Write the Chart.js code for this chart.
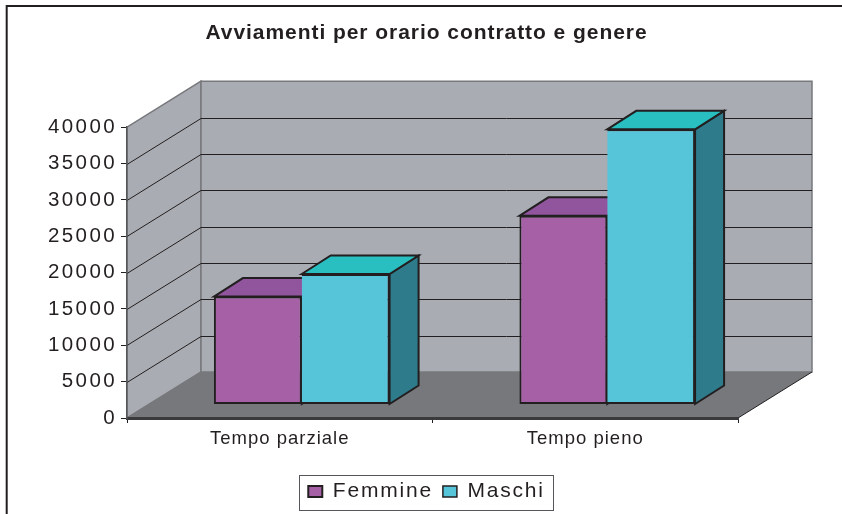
<!DOCTYPE html>
<html><head><meta charset="utf-8">
<style>html,body{margin:0;padding:0;background:#fff}canvas{display:block}</style>
<script src="https://cdn.jsdelivr.net/npm/chart.js@4"></script>
</head><body><canvas id="c" width="842" height="514"></canvas>
<script>
const categories = ["Tempo parziale", "Tempo pieno"];
const femmine = [14850, 25950];
const maschi = [17950, 37850];
const seriesNames = ["Femmine", "Maschi"];
const titleText = "Avviamenti per orario contratto e genere";

const ink = "#231f20", wallCol = "#a9acb3", floorCol = "#77787c", edge = "#77787c";
const wallDx = 74, wallDy = 46;      // depth of the box
const barShiftX = 22, barShiftY = 13.5; // bars sit inside the box
const barDx = 29, barDy = 18.5;      // depth of a bar
const faces = [{top:"#91559e", side:"#7d4a8a"}, {top:"#29bfc0", side:"#2e7b8c"}];

function poly(ctx, pts, fill, stroke, lw){
  ctx.beginPath(); pts.forEach((p,i)=> i?ctx.lineTo(p[0],p[1]):ctx.moveTo(p[0],p[1])); ctx.closePath();
  if(fill){ctx.fillStyle=fill;ctx.fill();}
  if(stroke){ctx.strokeStyle=stroke;ctx.lineWidth=lw;ctx.lineJoin="miter";ctx.stroke();}
}
function spaced(obj, method, px, ctx){
  if(obj["_sp_"+method]) return;
  obj["_sp_"+method]=true;
  const orig=obj[method];
  obj[method]=function(...a){ctx.letterSpacing=px;const r=orig.apply(this,a);ctx.letterSpacing="0px";return r;};
}
const box3d = {
  id:"box3d",
  beforeLayout(chart){chart.ctx.letterSpacing="1.8px";},
  afterLayout(chart){
    const ctx=chart.ctx; ctx.letterSpacing="0px";
    chart.scales.y.left=0; // tick labels may use the space left of the narrow axis box
    spaced(chart.scales.y,"drawLabels","2.4px",ctx);
    spaced(chart.scales.x,"drawLabels","1px",ctx);
    spaced(chart.legend,"draw","1.8px",ctx);
    spaced(chart.titleBlock,"draw","0.95px",ctx);
  },
  beforeDraw(chart){
    const ctx=chart.ctx, y=chart.scales.y, a=chart.chartArea;
    const L=a.left,R=a.right,T=y.getPixelForValue(40000),B=y.getPixelForValue(0);
    ctx.save();
    // outer frame: only the top and left lines are in the picture
    ctx.strokeStyle=ink;ctx.lineWidth=2;
    ctx.beginPath();ctx.moveTo(6.7,514);ctx.lineTo(6.7,6);ctx.lineTo(842,6);ctx.stroke();
    // walls and floor
    poly(ctx,[[L,B],[L+wallDx,B-wallDy],[L+wallDx,T-wallDy],[L,T]],wallCol,edge,1.5);
    poly(ctx,[[L+wallDx,B-wallDy],[R+wallDx,B-wallDy],[R+wallDx,T-wallDy],[L+wallDx,T-wallDy]],wallCol,edge,1.5);
    poly(ctx,[[L,B],[R,B],[R+wallDx,B-wallDy],[L+wallDx,B-wallDy]],floorCol);
    ctx.strokeStyle=ink;ctx.lineWidth=1;
    ctx.beginPath();ctx.moveTo(R,B);ctx.lineTo(R+wallDx,B-wallDy);ctx.stroke();
    // gridlines following the value scale
    y.ticks.forEach(t=>{
      if(t.value===0||t.value===40000) return;
      const py=Math.round(y.getPixelForValue(t.value))+0.5;
      ctx.beginPath();ctx.moveTo(L,py);ctx.lineTo(L+wallDx,py-wallDy);ctx.lineTo(R+wallDx,py-wallDy);
      ctx.strokeStyle=ink;ctx.lineWidth=1;ctx.stroke();
    });
    ctx.restore();
  },
  beforeDatasetsDraw(chart){
    const ctx=chart.ctx;
    ctx.save();
    ctx.translate(barShiftX,-barShiftY);
    chart.data.datasets.forEach((d,i)=>{
      chart.getDatasetMeta(i).data.forEach(el=>{
        const p=el.getProps(["x","y","base","width"],true);
        const l=p.x-p.width/2,r=p.x+p.width/2;
        poly(ctx,[[r,p.base],[r+barDx,p.base-barDy],[r+barDx,p.y-barDy],[r,p.y]],faces[i].side,ink,2);
        poly(ctx,[[l,p.y],[l+barDx,p.y-barDy],[r+barDx,p.y-barDy],[r,p.y]],faces[i].top,ink,2);
      });
    });
    // fronts are drawn by the library in this shifted space
  },
  afterDatasetsDraw(chart){chart.ctx.restore();},
  afterDraw(chart){
    const ctx=chart.ctx, hb=chart.legend.legendHitBoxes;
    const l=Math.min(...hb.map(h=>h.left)), r=Math.max(...hb.map(h=>h.left+h.width));
    const cy=hb[0].top+hb[0].height/2;
    ctx.save();ctx.strokeStyle="#55565a";ctx.lineWidth=1;
    ctx.strokeRect(Math.round(l-9)+.5,Math.round(cy-17)+.5,Math.round(r-l+18),35);
    ctx.restore();
  }
};
new Chart(document.getElementById("c"),{
  type:"bar",
  data:{labels:categories,datasets:[
    {label:seriesNames[0],data:femmine,backgroundColor:"#a660a6",borderColor:ink,borderWidth:2,borderSkipped:false,clip:false},
    {label:seriesNames[1],data:maschi,backgroundColor:"#56c5da",borderColor:ink,borderWidth:{left:0,right:2,top:2,bottom:2},borderSkipped:false,clip:false}
  ]},
  options:{
    responsive:false,animation:false,devicePixelRatio:1,
    layout:{padding:{left:115,right:104,top:21,bottom:2}},
    datasets:{bar:{categoryPercentage:0.575,barPercentage:1}},
    scales:{
      x:{afterFit(s){s.height=53;},
         grid:{drawOnChartArea:false,drawTicks:true,tickLength:5,color:ink,lineWidth:1},
         border:{display:true,color:"#3a3a3d",width:3},
         ticks:{color:ink,padding:5,maxRotation:0,font:{family:"Liberation Sans",size:18.5}}},
      y:{min:0,max:40000,afterFit(s){s.width=12;},
         grid:{drawOnChartArea:false,drawTicks:true,tickLength:6,color:ink,lineWidth:1},
         border:{display:true,color:"#55565a",width:1.5},
         ticks:{stepSize:5000,color:ink,padding:4,autoSkip:false,callback:v=>String(v),font:{family:"Liberation Sans",size:20.5}}}
    },
    plugins:{
      title:{display:true,text:titleText,color:ink,padding:{top:0,bottom:81},font:{family:"Liberation Sans",size:21,weight:"bold"}},
      legend:{position:"bottom",labels:{color:ink,boxWidth:14,boxHeight:11,padding:10,font:{family:"Liberation Sans",size:21}}},
      tooltip:{enabled:false}
    }
  },
  plugins:[box3d]
});
</script></body></html>
